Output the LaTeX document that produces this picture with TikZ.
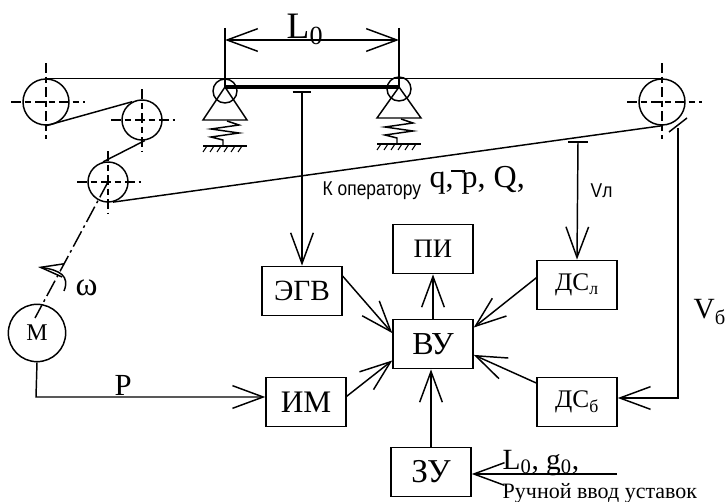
\documentclass[tikz,border=0pt]{standalone}
\usepackage{fontspec}
\setmainfont{Liberation Serif}
\newfontfamily\narrowfont[FakeStretch=0.87]{Liberation Sans}
\usepackage{tikz}
\usetikzlibrary{arrows.meta}
\usetikzlibrary{positioning}

\begin{document}
\begin{tikzpicture}[x=0.75pt,y=-0.75pt,line width=1.1pt,>={Straight Barb[length=23pt,width=17pt]},
	box node/.style={rectangle,draw,minimum width=60pt,minimum height=37pt,inner sep=0pt,font=\fontsize{22}{24}\selectfont},
	pulley node/.style={circle,draw,inner sep=0pt,minimum size=34.5pt},
	small pulley/.style={circle,draw,inner sep=0pt,minimum size=30pt},
	hinge node/.style={circle,draw,inner sep=0pt,minimum size=18pt},
	label node/.style={inner sep=0pt,anchor=base west},
	axis line/.style={dash pattern=on 7pt off 3pt on 5pt off 3pt}]

	\useasboundingbox (0,0) rectangle (725,502);

	\node[pulley node] (pa) at (46,102) {};
	\node[small pulley] (pb) at (142,120) {};
	\node[small pulley] (pc) at (108,182) {};
	\node[pulley node] (pd) at (662,102) {};
	\node[hinge node] (hl) at (225,91) {};
	\node[hinge node] (hr) at (399,89) {};

	\node[box node] (egv) at (302,291) {ЭГВ};
	\node[box node,font=\fontsize{20}{22}\selectfont] (pi) at (433,249) {ПИ};
	\node[box node,font=\fontsize{24}{26}\selectfont] (vu) at (433,344) {ВУ};
	\node[box node,font=\fontsize{23.5}{26}\selectfont] (im) at (306,402) {ИМ};
	\node[box node,font=\fontsize{25}{27}\selectfont] (zu) at (431,472) {ЗУ};
	\node[box node,font=\fontsize{19}{21}\selectfont] (dsl) at (577,285) {ДС\textsubscript{л}};
	\node[box node,font=\fontsize{19}{21}\selectfont] (dsb) at (577,402) {ДС\textsubscript{б}};
	\node[circle,draw,inner sep=0pt,minimum size=43pt,font=\fontsize{18}{20}\selectfont] (m) at (37,333) {М};

	\coordinate (dimtl) at (225,28);
	\coordinate (dimtr) at (399,28);
	\coordinate (diml) at (225,40);
	\coordinate (dimr) at (399,40);
	\coordinate (apexl) at (225,87);
	\coordinate (apexr) at (399,87);
	\coordinate (tegv) at (302,92);
	\coordinate (tdsl) at (578,142);
	\coordinate (vbtop) at (678,128);
	\coordinate (vbcorner) at (678,398);
	\coordinate (mcorner) at (36,397);
	\coordinate (zuin) at (617,474);
	\coordinate (shaftend) at (35,318);

	% belts
	\draw (pa.north) -- (pd.north);
	\draw (pa.south) -- (pb.118);
	\draw (pb.-82) -- (pc.104);
	\draw (pc.-76) -- (pd.south);

	% centre lines
	\draw[axis line] ([xshift=-26pt]pa.center) -- ([xshift=29pt]pa.center);
	\draw[axis line] ([yshift=29pt]pa.center) -- ([yshift=-28pt]pa.center);
	\draw[axis line] ([xshift=-23pt]pb.center) -- ([xshift=25pt]pb.center);
	\draw[axis line] ([yshift=23pt]pb.center) -- ([yshift=-24pt]pb.center);
	\draw[axis line] ([xshift=-23pt]pc.center) -- ([xshift=25pt]pc.center);
	\draw[axis line] ([yshift=23pt]pc.center) -- ([yshift=-24pt]pc.center);
	\draw[axis line] ([xshift=-26pt]pd.center) -- ([xshift=30pt]pd.center);
	\draw[axis line] ([yshift=29pt]pd.center) -- ([yshift=-28pt]pd.center);
	\draw[dash pattern=on 13pt off 3pt on 2pt off 3pt] (pc.center) -- (shaftend);

	% supports
	\draw[line width=2.4pt] (apexl) -- (apexr);
	\draw (apexl) -- (203,120) -- (247,120) -- cycle;
	\draw (apexr) -- (377,118) -- (421,118) -- cycle;
	\draw (227,121) -- (239,125) -- (211,129) -- (239,133) -- (211,137) -- (223,140) -- (223,146);
	\draw (401,119) -- (413,123) -- (385,127) -- (413,131) -- (385,135) -- (397,138) -- (397,144);
	\draw (203,146) -- (247,146);
	\draw[line width=0.8pt] (207,146) -- +(-4,6) (214,146) -- +(-4,6) (221,146) -- +(-4,6) (228,146) -- +(-4,6) (235,146) -- +(-4,6) (242,146) -- +(-4,6);
	\draw (377,144) -- (421,144);
	\draw[line width=0.8pt] (381,144) -- +(-4,6) (388,144) -- +(-4,6) (395,144) -- +(-4,6) (402,144) -- +(-4,6) (409,144) -- +(-4,6) (416,144) -- +(-4,6);

	% dimension
	\draw (dimtl) -- (apexl);
	\draw (dimtr) -- (apexr);
	\draw[<->] (diml) -- (dimr);

	% signals
	\draw ([xshift=-7pt]tegv) -- ([xshift=7pt]tegv);
	\draw ([xshift=-7.5pt]tdsl) -- ([xshift=7.5pt]tdsl);
	\draw (669,132) -- (687,118);
	\path[->]
	(tegv) edge (egv.north)
	(tdsl) edge (dsl.north)
	(egv.20) edge (vu.165)
	(im.8) edge (vu.202)
	(vu.north) edge (pi.south)
	(dsl.170) edge (vu.22)
	(dsb.155) edge (vu.-15)
	(zu.north) edge (zu.north |- vu.south)
	(zuin) edge (zu.east |- zuin);
	\draw[->] (vbtop) -- (vbcorner) -- (dsb.east |- vbcorner);
	\draw[->] (m.south) -- (mcorner) -- (im.west |- mcorner);
	\draw[->,>={Straight Barb[length=17pt,width=10pt]}] (64,291) .. controls (70,276) and (60,270) .. (38,267);

	% labels
	\node[label node,font=\fontsize{28}{30}\selectfont] (l0) at (286,39) {L\textsubscript{0}};
	\node[label node,font=\narrowfont\fontsize{15}{17}\selectfont] (op) at (322,196) {К оператору};
	\node[label node,font=\fontsize{24}{26}\selectfont] (qpq) at (429,188) {q, p, Q,};
	\draw (451,171) -- (465,171);
	\node[label node,font=\narrowfont\fontsize{15}{17}\selectfont] (vl) at (590,198) {Vл};
	\node[label node,font=\fontsize{25}{27}\selectfont] (om) at (75,296) {ω};
	\node[label node,font=\fontsize{23}{25}\selectfont] (p) at (114,395) {P};
	\node[label node,font=\fontsize{22}{24}\selectfont] (vb) at (693,319) {V\textsubscript{б}};
	\node[label node,font=\fontsize{22}{24}\selectfont] (lg) at (502,469) {L\textsubscript{0}, g\textsubscript{0},};
	\node[label node,font=\fontsize{16.5}{18}\selectfont] (man) at (502,498) {Ручной ввод уставок};
\end{tikzpicture}
\end{document}
